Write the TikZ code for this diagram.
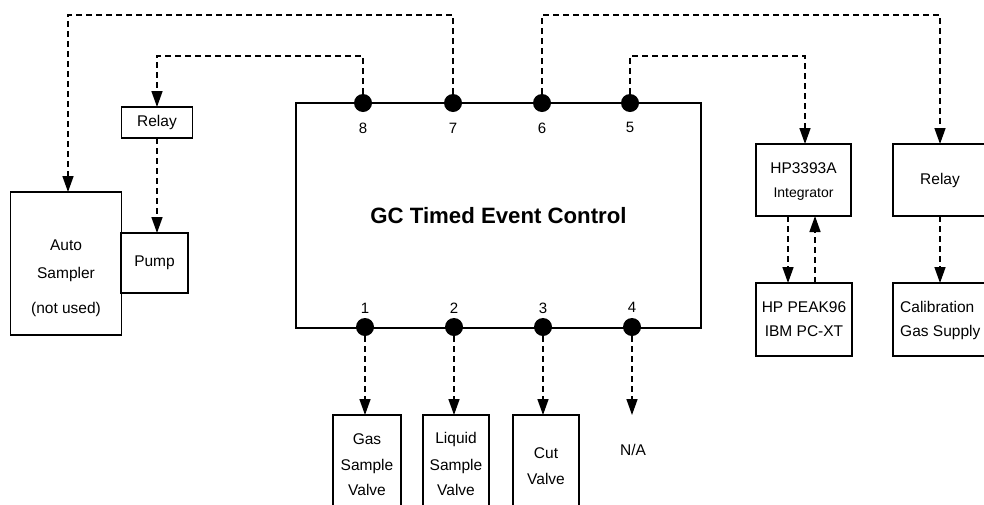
\documentclass[tikz,border=0pt]{standalone}
\usepackage{fontspec}
\setmainfont{Liberation Sans}
\usetikzlibrary{arrows.meta}
\newcommand{\fbx}{\fontsize{15.5}{18}\selectfont}
\newcommand{\fnum}{\fontsize{15}{17}\selectfont}
\tikzset{
  box/.style={draw, line width=1.7pt, inner sep=0pt, outer sep=0pt, font=\fbx, align=center},
  mainbox/.style={draw, line width=2.8pt, inner sep=0pt, outer sep=0pt, font=\bfseries\fontsize{22.2}{25}\selectfont},
  conn/.style={line width=1.5pt, dash pattern=on 6pt off 4pt, -{Triangle[length=16pt,width=11pt]}},
  dot/.style={circle, fill=black, minimum size=18pt, inner sep=0pt, outer sep=0pt},
  lbl/.style={inner sep=0pt, font=\fbx},
  num/.style={inner sep=0pt, font=\fnum}
}
\begin{document}
\begin{tikzpicture}[x=1pt,y=-1pt]
\useasboundingbox (0,0) rectangle (984,504);
\clip (0,0) rectangle (984,504);
\fill[white] (0,0) rectangle (984,504);
% levels for the dashed wires
\coordinate (yA) at (0,15);
\coordinate (yB) at (0,56);
% main box
\node[mainbox, minimum width=405pt, minimum height=225pt] (main) at (498.5,215.5) {GC Timed Event Control};
% dots
\node[dot] (d8) at (363,103) {};
\node[dot] (d7) at (453,103) {};
\node[dot] (d6) at (542,103) {};
\node[dot] (d5) at (630,103) {};
\node[dot] (d1) at (365,327) {};
\node[dot] (d2) at (454,327) {};
\node[dot] (d3) at (543,327) {};
\node[dot] (d4) at (632,327) {};
\node[num] (n8) at (363,128) {8};
\node[num] (n7) at (453,128) {7};
\node[num] (n6) at (542,128) {6};
\node[num] (n5) at (630,127) {5};
\node[num] (n1) at (365,308) {1};
\node[num] (n2) at (454,308) {2};
\node[num] (n3) at (543,308) {3};
\node[num] (n4) at (632,307) {4};
% left side
\node[box, minimum width=111pt, minimum height=143pt] (auto) at (66,263.5) {};
\node[lbl] (autoa) at (66,245) {Auto};
\node[lbl] (autob) at (66,274) {Sampler};
\node[lbl] (autoc) at (66,309) {(not used)};
\node[box, minimum width=67pt, minimum height=60pt] (pump) at (154.5,263) {Pump};
\node[box, minimum width=71pt, minimum height=31pt] (relayL) at (157,122.5) {Relay};
% right side
\node[box, minimum width=95pt, minimum height=72pt] (integ) at (803.5,180) {};
\node[lbl] (intega) at (803.5,168) {HP3393A};
\node[lbl, font=\fontsize{14}{16}\selectfont] (integb) at (803.5,194) {Integrator};
\node[box, minimum width=96pt, minimum height=73pt] (peak) at (804,319.5) {};
\node[lbl] (peaka) at (804,307) {HP PEAK96};
\node[lbl] (peakb) at (804,331) {IBM PC-XT};
\node[box, minimum width=94pt, minimum height=72pt] (relayR) at (940,180) {Relay};
\node[box, minimum width=94pt, minimum height=73pt] (calib) at (940,319.5) {};
\node[lbl, anchor=west] (caliba) at (900,307) {Calibration};
\node[lbl, anchor=west] (calibb) at (900,332) {Gas Supply};
% bottom boxes
\node[box, minimum width=68pt, minimum height=120pt] (gas) at (367,475) {};
\node[lbl] (gasa) at (367,439) {Gas};
\node[lbl] (gasb) at (367,466) {Sample};
\node[lbl] (gasc) at (367,490) {Valve};
\node[box, minimum width=66pt, minimum height=120pt] (liq) at (456,475) {};
\node[lbl] (liqa) at (456,439) {Liquid};
\node[lbl] (liqb) at (456,466) {Sample};
\node[lbl] (liqc) at (456,490) {Valve};
\node[box, minimum width=66pt, minimum height=120pt] (cut) at (546,475) {};
\node[lbl] (cuta) at (546,453) {Cut};
\node[lbl] (cutb) at (546,479) {Valve};
\coordinate (naend) at (632,415);
\node[lbl] (na) at (633,450) {N/A};
% connectors
\draw[conn] (d7.north) -- (d7 |- yA) -| (auto.north -| 68,0);
\draw[conn] (d8.north) -- (d8 |- yB) -| (relayL.north);
\draw[conn] (relayL.south) -- (relayL.south |- pump.north);
\draw[conn] (d6.north) -- (d6 |- yA) -| (relayR.north);
\draw[conn] (d5.north) -- (d5 |- yB) -| (integ.north -| 805,0);
\draw[conn] (relayR.south) -- (calib.north);
\draw[conn] ([xshift=-15.5pt]integ.south) -- ([xshift=-16pt]peak.north);
\draw[conn] ([xshift=11pt]peak.north) -- ([xshift=11.5pt]integ.south);
\draw[conn] (d1.south) -- (d1 |- gas.north);
\draw[conn] (d2.south) -- (d2 |- liq.north);
\draw[conn] (d3.south) -- (d3 |- cut.north);
\draw[conn] (d4.south) -- (naend);
\end{tikzpicture}
\end{document}
